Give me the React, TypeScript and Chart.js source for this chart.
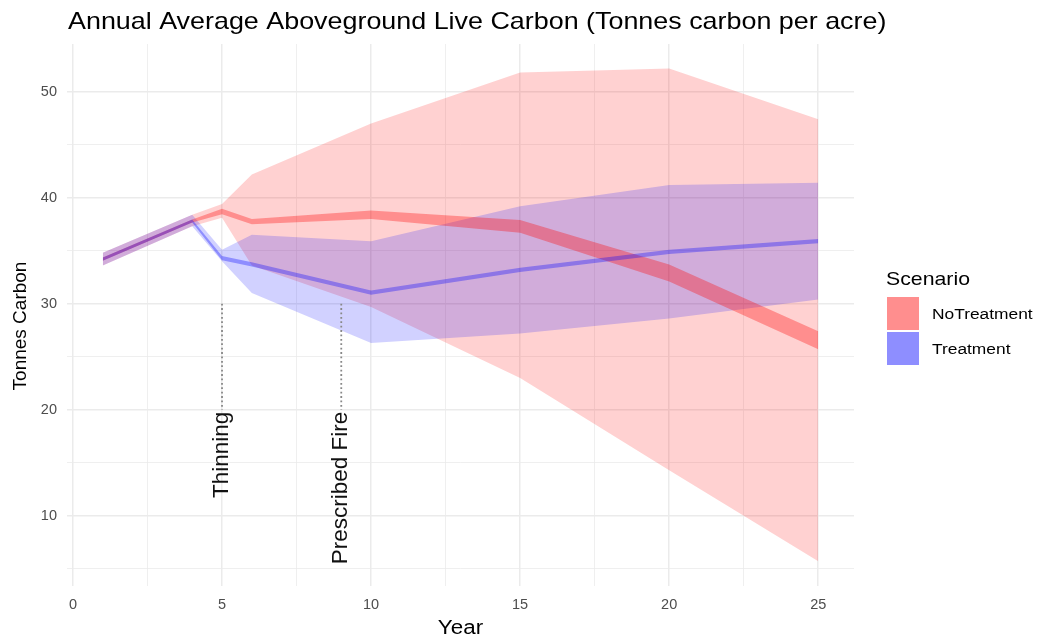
import React, { useEffect, useRef } from "react";
import { Chart, registerables } from "chart.js";

Chart.register(...registerables);

// ---------- data ----------
const years = [1, 4, 5, 6, 10, 15, 20, 25];

// wide ribbons (range)
const noTreatRangeLow = [33.6, 37.3, 38.1, 33.6, 29.7, 23.0, 14.3, 5.7];
const noTreatRangeHigh = [34.8, 38.4, 39.4, 42.2, 47.0, 51.8, 52.2, 47.4];
const treatRangeLow = [33.6, 37.3, 34.0, 31.0, 26.3, 27.2, 28.6, 30.4];
const treatRangeHigh = [34.8, 38.4, 35.1, 36.5, 35.9, 39.2, 41.2, 41.4];

// narrow ribbons (mean band)
const noTreatMeanLow = [34.05, 37.65, 38.45, 37.5, 38.0, 36.7, 32.1, 25.7];
const noTreatMeanHigh = [34.35, 37.95, 38.95, 38.0, 38.8, 37.9, 33.7, 27.4];
const treatMeanLow = [34.05, 37.65, 34.1, 33.5, 30.85, 33.0, 34.7, 35.7];
const treatMeanHigh = [34.35, 37.95, 34.5, 33.9, 31.25, 33.4, 35.1, 36.1];

const xMajorTicks = [0, 5, 10, 15, 20, 25];
const xMinorTicks = [2.5, 7.5, 12.5, 17.5, 22.5];
const yMajorTicks = [10, 20, 30, 40, 50];
const yMinorTicks = [5, 15, 25, 35, 45];

const eventYears = [5, 9];
const eventLabels = ["Thinning", "Prescribed Fire"];
const eventLineTop = 30;
const eventLineBottom = 20;

const scenarios = ["NoTreatment", "Treatment"];

const titleText = "Annual Average Aboveground Live Carbon (Tonnes carbon per acre)";
const xTitle = "Year";
const yTitle = "Tonnes Carbon";
const legendTitle = "Scenario";

// ---------- styles ----------
const FONT = '"Liberation Sans", Arial, Helvetica, sans-serif';
const redWide = "rgba(255,0,0,0.18)";
const blueWide = "rgba(0,0,255,0.18)";
const redNarrow = "rgba(255,0,0,0.32)";
const blueNarrow = "rgba(0,0,255,0.32)";
const SX = 1.12;

function drawText(
  ctx: CanvasRenderingContext2D,
  text: string,
  x: number,
  y: number,
  size: number,
  color: string,
  align: CanvasTextAlign,
  baseline: CanvasTextBaseline,
  sx = 1,
  rot = 0
) {
  ctx.save();
  ctx.translate(x, y);
  if (rot) ctx.rotate(rot);
  ctx.scale(sx, 1);
  ctx.font = `${size}px ${FONT}`;
  ctx.fillStyle = color;
  ctx.textAlign = align;
  ctx.textBaseline = baseline;
  ctx.fillText(text, 0, 0);
  ctx.restore();
}

const overlayPlugin = {
  id: "overlay",
  afterDatasetsDraw(chart: any) {
    const ctx: CanvasRenderingContext2D = chart.ctx;
    const xs = chart.scales.x;
    const ys = chart.scales.y;
    ctx.save();
    ctx.strokeStyle = "#888888";
    ctx.lineWidth = 1.8;
    ctx.setLineDash([1.8, 2.6]);
    eventYears.forEach((ev) => {
      const px = xs.getPixelForValue(ev);
      ctx.beginPath();
      ctx.moveTo(px, ys.getPixelForValue(eventLineTop));
      ctx.lineTo(px, ys.getPixelForValue(eventLineBottom));
      ctx.stroke();
    });
    ctx.restore();
    eventYears.forEach((ev, i) => {
      const px = xs.getPixelForValue(ev);
      const py = ys.getPixelForValue(eventLineBottom);
      drawText(ctx, eventLabels[i], px, py + 2, 22.5, "#111", "right", "middle", 1, -Math.PI / 2);
    });
  },
  afterDraw(chart: any) {
    const ctx: CanvasRenderingContext2D = chart.ctx;
    const area = chart.chartArea;
    // title
    drawText(ctx, titleText, 68, 29, 24, "#000", "left", "alphabetic", SX);
    // axis titles
    drawText(ctx, xTitle, (area.left + area.right) / 2, 634, 20, "#000", "center", "alphabetic", SX);
    drawText(ctx, yTitle, 21, 326, 19, "#000", "center", "middle", 1, -Math.PI / 2);
    // legend
    const lx = 886;
    drawText(ctx, legendTitle, lx, 285, 19, "#000", "left", "alphabetic", SX);
    const fills = [
      [redWide, redNarrow],
      [blueWide, blueNarrow],
    ];
    scenarios.forEach((s, i) => {
      const ky = 297 + i * 35;
      ctx.save();
      ctx.fillStyle = "#fff";
      ctx.fillRect(lx + 1, ky, 32, 33);
      fills[i].forEach((c) => {
        ctx.fillStyle = c;
        ctx.fillRect(lx + 1, ky, 32, 33);
      });
      ctx.restore();
      drawText(ctx, s, 932, ky + 17.5, 15.5, "#000", "left", "middle", SX);
    });
  },
};

function band(data: number[], fill: any, color: string) {
  return {
    data: years.map((x, i) => ({ x, y: data[i] })),
    borderColor: "rgba(0,0,0,0)",
    borderWidth: 0,
    pointRadius: 0,
    pointHoverRadius: 0,
    tension: 0,
    fill,
    backgroundColor: color,
  };
}

export default function App() {
  const ref = useRef<HTMLCanvasElement | null>(null);

  useEffect(() => {
    if (!ref.current) return;
    const majorX = new Set(xMajorTicks);
    const majorY = new Set(yMajorTicks);
    const chart = new Chart(ref.current, {
      type: "line",
      data: {
        datasets: [
          band(treatMeanLow, false, "rgba(0,0,0,0)"),
          band(treatMeanHigh, "-1", blueNarrow),
          band(noTreatMeanLow, false, "rgba(0,0,0,0)"),
          band(noTreatMeanHigh, "-1", redNarrow),
          band(treatRangeLow, false, "rgba(0,0,0,0)"),
          band(treatRangeHigh, "-1", blueWide),
          band(noTreatRangeLow, false, "rgba(0,0,0,0)"),
          band(noTreatRangeHigh, "-1", redWide),
        ] as any,
      },
      options: {
        responsive: false,
        animation: false,
        events: [],
        layout: { padding: { top: 44, right: 183, left: 0, bottom: 0 } },
        plugins: {
          legend: { display: false },
          title: { display: false },
          tooltip: { enabled: false },
        },
        scales: {
          x: {
            type: "linear",
            min: -0.2,
            max: 26.2,
            afterBuildTicks: (scale: any) => {
              scale.ticks = [...xMajorTicks, ...xMinorTicks]
                .sort((a, b) => a - b)
                .map((v) => ({ value: v }));
            },
            afterFit: (scale: any) => {
              scale.height = 53;
            },
            border: { display: false },
            grid: {
              drawTicks: false,
              color: "#EBEBEB",
              lineWidth: (c: any) => (majorX.has(c.tick?.value) ? 1.5 : 0.8),
            },
            ticks: {
              autoSkip: false,
              maxRotation: 0,
              padding: 10,
              color: "#4D4D4D",
              font: { family: FONT, size: 14.5 },
              callback: (v: any) => (majorX.has(Number(v)) ? String(v) : ""),
            },
          },
          y: {
            type: "linear",
            min: 3.37,
            max: 54.5,
            afterBuildTicks: (scale: any) => {
              scale.ticks = [...yMajorTicks, ...yMinorTicks]
                .sort((a, b) => a - b)
                .map((v) => ({ value: v }));
            },
            afterFit: (scale: any) => {
              scale.width = 67;
            },
            border: { display: false },
            grid: {
              drawTicks: false,
              color: "#EBEBEB",
              lineWidth: (c: any) => (majorY.has(c.tick?.value) ? 1.5 : 0.8),
            },
            ticks: {
              autoSkip: false,
              padding: 10,
              color: "#4D4D4D",
              font: { family: FONT, size: 14.5 },
              callback: (v: any) => (majorY.has(Number(v)) ? String(v) : ""),
            },
          },
        },
      } as any,
      plugins: [overlayPlugin],
    });
    return () => chart.destroy();
  }, []);

  return (
    <div style={{ position: "fixed", left: 0, top: 0, width: 1037, height: 639, background: "#fff" }}>
      <canvas ref={ref} width={1037} height={639} style={{ width: 1037, height: 639, display: "block" }} />
    </div>
  );
}
